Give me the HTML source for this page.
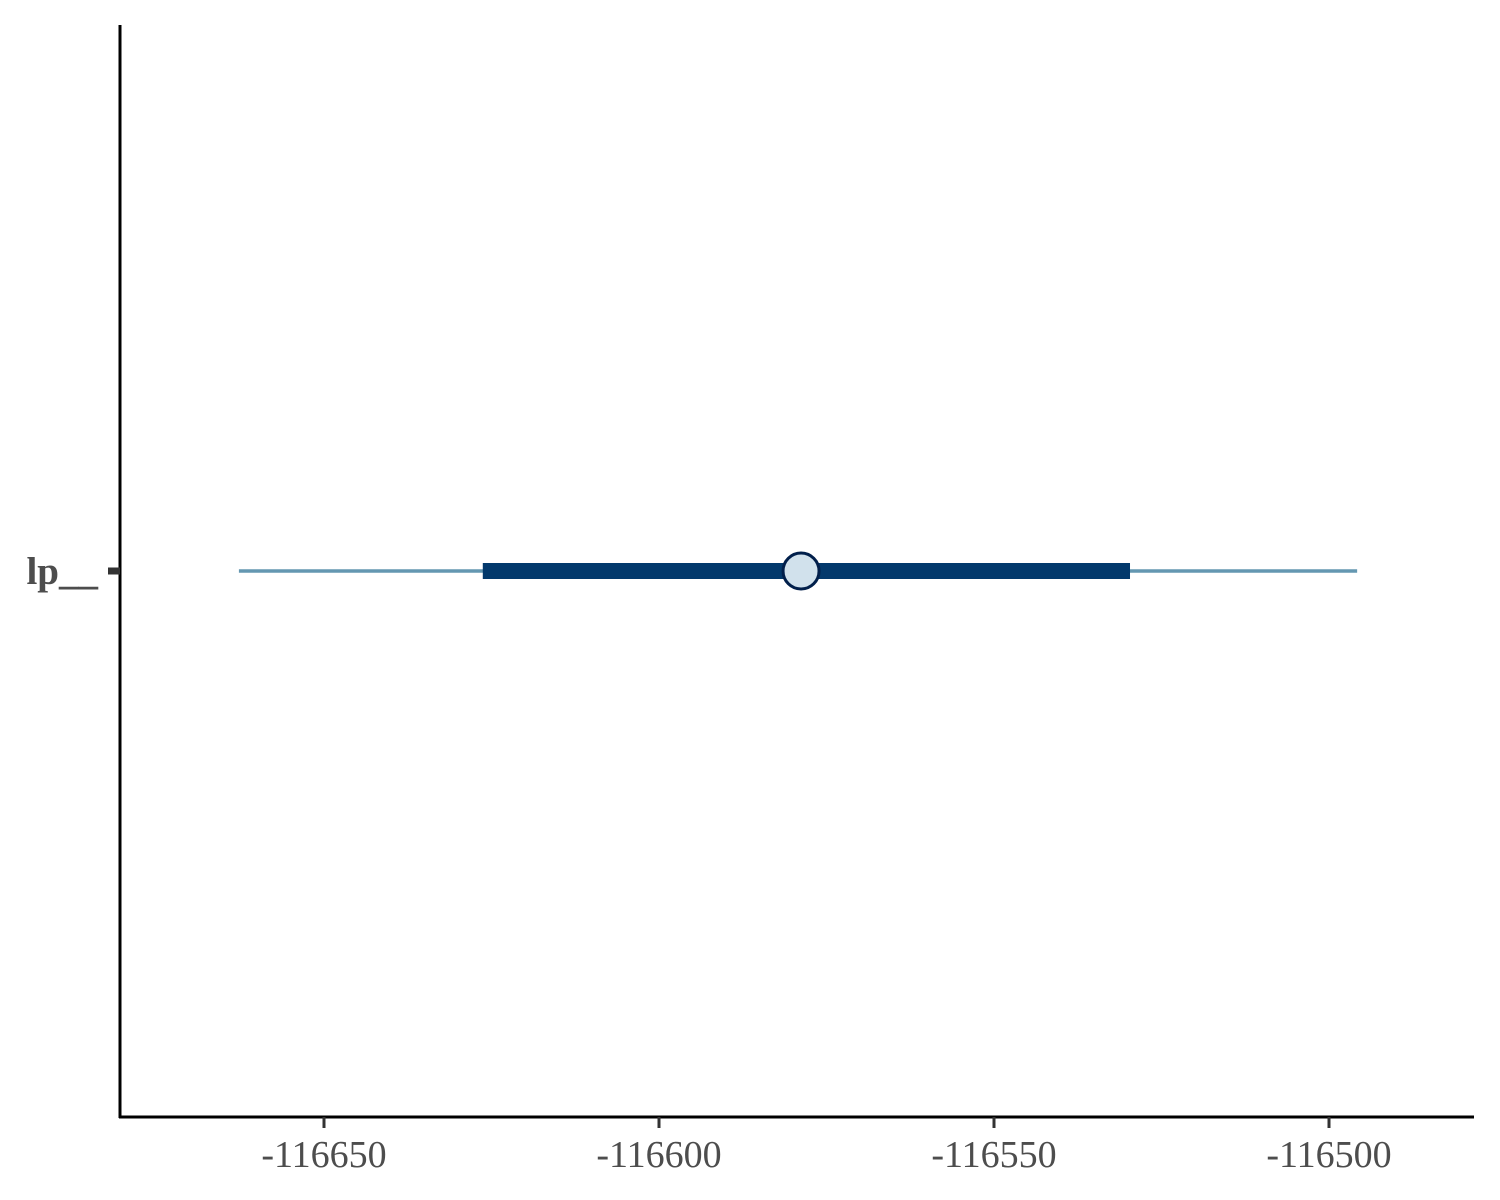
<!DOCTYPE html>
<html><head><meta charset="utf-8"><style>
html,body{margin:0;padding:0;background:#fff;}
svg{display:block;}
text{font-family:"Liberation Serif",serif;}
</style></head><body>
<svg id="chart" width="1500" height="1200" viewBox="0 0 1500 1200">
<rect width="1500" height="1200" fill="#fff"/>
<g id="marks"></g>
<line x1="120" y1="25" x2="120" y2="1118" stroke="#000" stroke-width="3"/>
<line x1="119" y1="1117" x2="1474" y2="1117" stroke="#000" stroke-width="3"/>
<g id="xticks"></g>
<g id="yticks"></g>
</svg>
<script>
const params = ["lp__"];
const outerLow = [-116662.7];
const outerHigh = [-116495.8];
const innerLow = [-116626.3];
const innerHigh = [-116529.7];
const pointEst = [-116578.8];
const xTicks = [-116650, -116600, -116550, -116500];
const xTickLabels = ["-116650", "-116600", "-116550", "-116500"];

const NS = "http://www.w3.org/2000/svg";
function xs(v){ return 324 + (v - (-116650)) * 6.7; }
function ys(i){ return 571 + i * 100; }
function mk(tag, attrs, parent){
  const e = document.createElementNS(NS, tag);
  for (const k in attrs) e.setAttribute(k, attrs[k]);
  parent.appendChild(e);
  return e;
}
const marks = document.getElementById("marks");
const xt = document.getElementById("xticks");
const yt = document.getElementById("yticks");

xTicks.forEach((t, i) => {
  const l = mk("line", {x1: xs(t), x2: xs(t), y1: 1117, y2: 1128, stroke: "#333", "stroke-width": 3}, xt);
  
  
  const tx = mk("text", {x: xs(t), y: 1167, "text-anchor": "middle", "font-size": 38, fill: "#4d4d4d"}, xt);
  tx.textContent = xTickLabels[i];
  
  
});

params.forEach((p, i) => {
  const y = ys(i);
  const tk = mk("line", {x1: 108, x2: 120, y1: y, y2: y, stroke: "#333", "stroke-width": 7}, yt);
  
  
  const lb = mk("text", {x: 98, y: y + 13, "text-anchor": "end", "font-size": 39, "font-weight": "bold", fill: "#4d4d4d"}, yt);
  lb.textContent = p;
  
  

  const o = mk("line", {x1: xs(outerLow[i]), x2: xs(outerHigh[i]), y1: y, y2: y, stroke: "#6497b1", "stroke-width": 3.5}, marks);
  
  
  const n = mk("line", {x1: xs(innerLow[i]), x2: xs(innerHigh[i]), y1: y, y2: y, stroke: "#03396c", "stroke-width": 16}, marks);
  
  
  const c = mk("circle", {cx: xs(pointEst[i]), cy: y, r: 18, fill: "#d1e1ec", stroke: "#011f4b", "stroke-width": 3}, marks);
  
  
});
</script>
</body></html>
